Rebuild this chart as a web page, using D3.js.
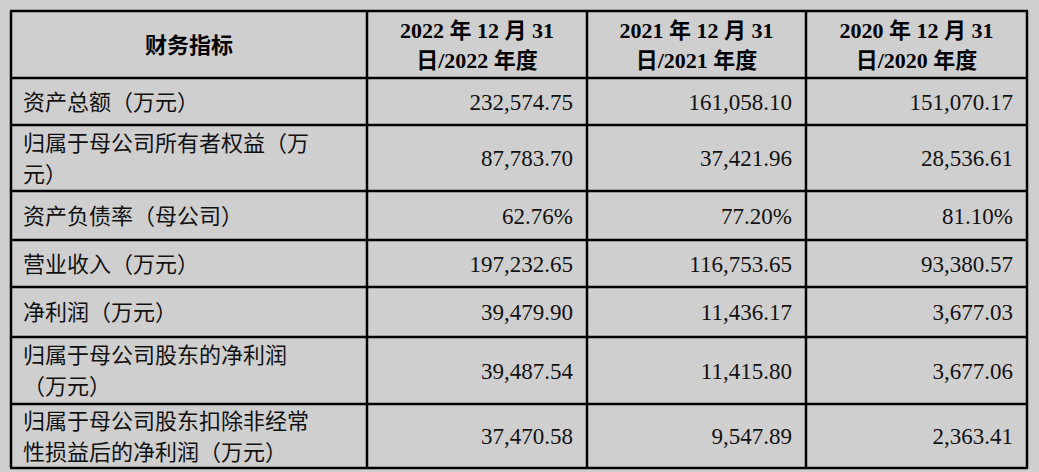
<!DOCTYPE html><html><head><meta charset="utf-8"><script src="https://cdn.jsdelivr.net/npm/d3@7"></script>
<style>body{margin:0;background:#cfcfcf}</style></head><body><script>
const headers=[["财务指标"],["2022 年 12 月 31","日/2022 年度"],["2021 年 12 月 31","日/2021 年度"],["2020 年 12 月 31","日/2020 年度"]];
const categories=[["资产总额（万元）"],["归属于母公司所有者权益（万","元）"],["资产负债率（母公司）"],["营业收入（万元）"],["净利润（万元）"],["归属于母公司股东的净利润","（万元）"],["归属于母公司股东扣除非经常","性损益后的净利润（万元）"]];
const v2022=["232,574.75","87,783.70","62.76%","197,232.65","39,479.90","39,487.54","37,470.58"];
const v2021=["161,058.10","37,421.96","77.20%","116,753.65","11,436.17","11,415.80","9,547.89"];
const v2020=["151,070.17","28,536.61","81.10%","93,380.57","3,677.03","3,677.06","2,363.41"];
const colX=[11,367,587,806,1027];
const rowY=[11,78,125,191,240,287,337,404,468];
const svg=d3.select("body").append("svg").attr("width",1039).attr("height",472);
const cjk="'Noto Sans CJK SC',sans-serif", serif="'Liberation Serif','Noto Sans CJK SC',serif";
// grid
rowY.forEach(y=>svg.append("line").attr("x1",colX[0]-1).attr("x2",colX[4]+1).attr("y1",y).attr("y2",y).attr("stroke","#000").attr("stroke-width",2.5));
colX.forEach(x=>svg.append("line").attr("x1",x).attr("x2",x).attr("y1",rowY[0]).attr("y2",rowY[8]).attr("stroke","#000").attr("stroke-width",2.5));
// header
headers.forEach((h,i)=>{const cx=(colX[i]+colX[i+1])/2, cy=(rowY[0]+rowY[1])/2;
 h.forEach((t,j)=>svg.append("text").attr("x",cx).attr("y",cy+(j-(h.length-1)/2)*30+8).attr("text-anchor","middle")
  .attr("font-family",i==0?cjk:serif).attr("font-weight","bold").attr("font-size",22).text(t));});
// body
const vals=[v2022,v2021,v2020];
categories.forEach((c,r)=>{const cy=(rowY[r+1]+rowY[r+2])/2;
 c.forEach((t,j)=>svg.append("text").attr("x",colX[0]+12).attr("y",cy+(j-(c.length-1)/2)*31+8)
  .attr("font-family",cjk).attr("font-size",22).attr("fill","#111").text(t));
 vals.forEach((vs,k)=>svg.append("text").attr("x",colX[k+2]-14).attr("y",cy+8).attr("text-anchor","end")
  .attr("font-family",serif).attr("font-size",23).attr("fill","#111").text(vs[r]));});
</script></body></html>
